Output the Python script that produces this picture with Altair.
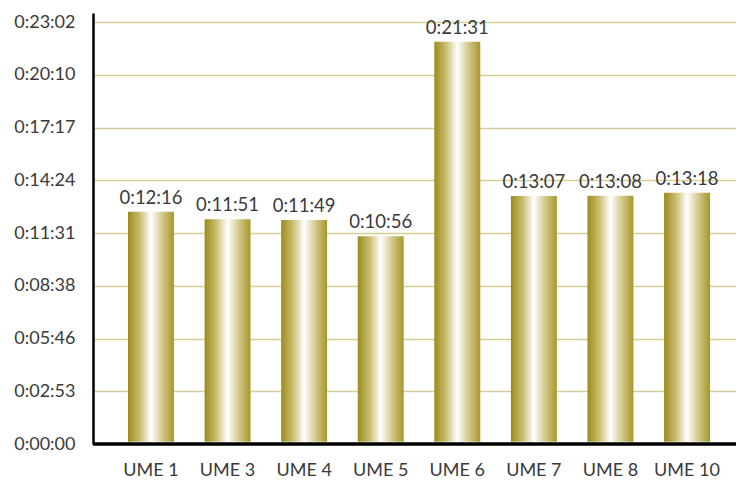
import altair as alt
import pandas as pd

categories = ["UME 1", "UME 3", "UME 4", "UME 5", "UME 6", "UME 7", "UME 8", "UME 10"]
durations = ["0:12:16", "0:11:51", "0:11:49", "0:10:56", "0:21:31", "0:13:07", "0:13:08", "0:13:18"]
tick_values = [0, 172.8, 345.6, 518.4, 691.2, 864.0, 1036.8, 1209.6, 1382.4]


def to_seconds(s):
    h, m, sec = s.split(":")
    return int(h) * 3600 + int(m) * 60 + int(sec)


df = pd.DataFrame({
    "cat": categories,
    "label": durations,
    "secs": [to_seconds(d) for d in durations],
})
base_df = pd.DataFrame({"v": [0]})

FONT = "Lato"
TXT = "#3a3a3a"
W, H = 643, 431

x_enc = alt.X("cat:N", sort=categories, title=None,
              scale=alt.Scale(range=[35, 617], paddingInner=0.4, paddingOuter=0),
              axis=alt.Axis(domain=False, ticks=False, labelAngle=0, labelFont=FONT,
                            labelFontSize=18, labelColor=TXT, labelPadding=31,
                            labelBaseline="alphabetic"))

# value axis (gridlines) and the bars' own scale, as drawn in the reference
grid_scale = alt.Scale(domain=[0, 1412], nice=False, zero=True)
bar_scale = alt.Scale(domain=[-22.5, 1384.5], nice=False, zero=False)

label_expr = ("'0:' + (floor(round(datum.value)/60) < 10 ? '0' : '') + floor(round(datum.value)/60)"
              " + ':' + (round(datum.value) % 60 < 10 ? '0' : '') + (round(datum.value) % 60)")

grad = alt.Gradient(
    gradient="linear", x1=0, x2=1, y1=0, y2=0,
    stops=[
        alt.GradientStop(offset=0, color="#9c8c1c"),
        alt.GradientStop(offset=0.25, color="#c8bc6e"),
        alt.GradientStop(offset=0.5, color="#ffffff"),
        alt.GradientStop(offset=0.75, color="#d2c88a"),
        alt.GradientStop(offset=1, color="#a6972a"),
    ],
)

grid = alt.Chart(base_df).mark_rule(opacity=0).encode(
    y=alt.Y("v:Q", scale=grid_scale, title=None,
            axis=alt.Axis(values=tick_values, labelExpr=label_expr, grid=True,
                          gridColor="#d6cd97", gridWidth=1.5, ticks=False,
                          domain=True, domainColor="#000000", domainWidth=2.5,
                          labelFont=FONT, labelFontSize=18, labelColor=TXT,
                          labelPadding=18)),
    x=alt.value(0),
    x2=alt.value(W),
)

bars = alt.Chart(df).mark_bar(color=grad).encode(
    x=x_enc,
    y=alt.Y("secs:Q", scale=bar_scale, axis=None),
    y2=alt.datum(-15),
)

texts = alt.Chart(df).mark_text(baseline="alphabetic", dy=-8, font=FONT, fontSize=18.5,
                                color=TXT).encode(
    x=alt.X("cat:N", sort=categories),
    y=alt.Y("secs:Q", scale=bar_scale, axis=None),
    text="label:N",
)

axis_line = alt.Chart(base_df).mark_rule(color="#000000", strokeWidth=3.5).encode(
    y=alt.Y("v:Q", scale=grid_scale, axis=None),
    x=alt.value(0),
    x2=alt.value(W),
)

chart = alt.layer(grid, bars, texts, axis_line).resolve_scale(
    y="independent"
).properties(
    width=W, height=H,
    autosize=alt.AutoSizeParams(type="none"),
    padding={"left": 85, "top": 5, "right": 0, "bottom": 40},
).configure_view(stroke=None)

chart.save("out.html", embed_options={"renderer": "svg", "actions": False})
